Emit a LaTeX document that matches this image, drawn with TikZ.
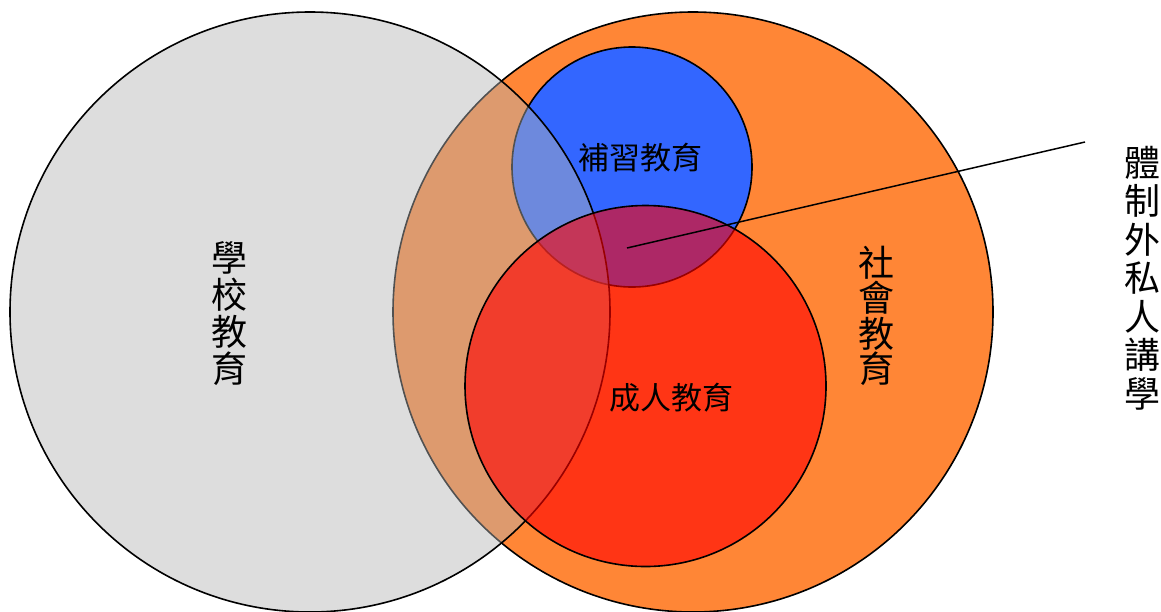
\documentclass[tikz,border=0pt]{standalone}
\usepackage{fontspec}
\newfontfamily\cjk{Noto Sans CJK TC}
\usetikzlibrary{positioning}

\definecolor{socialC}{HTML}{FF8636}
\definecolor{cramC}{HTML}{3366FF}
\definecolor{schoolC}{HTML}{B4B4B4}
\definecolor{adultC}{HTML}{FF0000}

\begin{document}
\begin{tikzpicture}[x=1pt,y=-1pt,
    ring/.style={circle, draw, line width=1.6pt, inner sep=0pt},
    vlabel/.style={align=center, font=\cjk\fontsize{36}{37}\selectfont},
    hlabel/.style={font=\cjk\fontsize{31}{31}\selectfont}]
    \useasboundingbox (0,0) rectangle (1161,611);

    % circles, bottom to top
    \node[ring, minimum size=600pt, fill=socialC] (social) at (693,312) {};
    \node[ring, minimum size=240pt, fill=cramC] (cram) at (632,167) {};
    \node[ring, minimum size=600pt, fill=schoolC, fill opacity=0.45] (school) at (310,312) {};
    \node[ring, minimum size=361pt, fill=adultC, fill opacity=0.6] (adult) at (645.5,386) {};

    % labels
    \node[vlabel] (schoolT) at (229.5,314) {學\\校\\教\\育};
    \node[vlabel, font=\cjk\fontsize{36}{35.5}\selectfont] (socialT) at (876,316) {社\\會\\教\\育};
    \node[hlabel] (cramT) at (640.5,157.5) {補習教育};
    \node[hlabel] (adultT) at (671.5,398) {成人教育};
    \node[vlabel, font=\cjk\fontsize{36}{38.5}\selectfont] (privT) at (1142.5,278) {體\\制\\外\\私\\人\\講\\學};

    % pointer
    \coordinate (tip) at (627,248);
    \coordinate (lead) at (1085,142);
    \draw[line width=1.5pt] (tip) -- (lead);
\end{tikzpicture}
\end{document}
